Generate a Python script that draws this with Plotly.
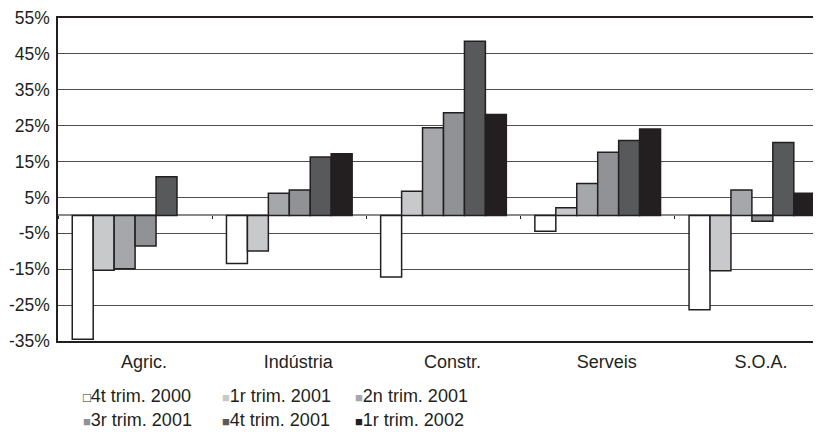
import plotly.graph_objects as go

# sectors and quarterly series (year-on-year change, %)
categories = ["Agric.", "Indústria", "Constr.", "Serveis", "S.O.A."]
series_names = ["4t trim. 2000", "1r trim. 2001", "2n trim. 2001",
                "3r trim. 2001", "4t trim. 2001", "1r trim. 2002"]
q4_2000 = [-34.5, -13.4, -17.2, -4.4, -26.3]
q1_2001 = [-15.3, -9.9, 6.7, 2.1, -15.4]
q2_2001 = [-14.9, 6.2, 24.4, 8.9, 7.1]
q3_2001 = [-8.5, 7.1, 28.6, 17.6, -1.6]
q4_2001 = [10.8, 16.3, 48.5, 20.9, 20.3]
q1_2002 = [None, 17.2, 28.1, 24.1, 6.2]
y_ticks = [-35, -25, -15, -5, 5, 15, 25, 35, 45, 55]

series_values = [q4_2000, q1_2001, q2_2001, q3_2001, q4_2001, q1_2002]
colors = ["#ffffff", "#c8c9cb", "#a6a7aa", "#919295", "#58595b", "#231f20"]
ink = "#231f20"
font = "Liberation Sans, Arial, sans-serif"

fig = go.Figure()
for name, vals, col in zip(series_names, series_values, colors):
    fig.add_trace(go.Bar(
        x=categories, y=vals, name=name,
        marker=dict(color=col, line=dict(color=ink, width=1.5)),
        showlegend=False,
    ))

# empty trace so the category axis crossing at 0 gets its tick marks
fig.add_trace(go.Scatter(x=categories, y=[None] * len(categories), xaxis="x2",
                         mode="lines", showlegend=False, hoverinfo="skip"))

# legend drawn as text rows (small squares like the original)
legend_x = [0.030, 0.210, 0.383]
legend_y = [-0.171, -0.245]
for i, (name, col) in enumerate(zip(series_names, colors)):
    sym = "□" if col == "#ffffff" else "■"
    sym_col = ink if col == "#ffffff" else col
    fig.add_annotation(
        xref="paper", yref="paper",
        x=legend_x[i % 3], y=legend_y[i // 3],
        xanchor="left", yanchor="middle", showarrow=False,
        text=f"<span style='color:{sym_col};font-size:13px'>{sym}</span>{name}",
        font=dict(family=font, size=18, color=ink),
    )

# page body adds an 8px offset, so margins are 8px smaller than the target
fig.update_layout(
    width=821, height=432,
    margin=dict(l=50, r=0, t=10, b=99),
    plot_bgcolor="white", paper_bgcolor="white",
    barmode="group", bargap=0.185, bargroupgap=0,
    font=dict(family=font, size=18, color=ink),
    xaxis=dict(
        type="category", range=[-0.5, 4.5], automargin=False,
        showline=True, linecolor=ink, linewidth=1.5, mirror=True,
        showgrid=False, ticks="", ticklabelstandoff=4, ticklabelshift=9,
    ),
    xaxis2=dict(
        type="category", overlaying="x", range=[-0.5, 4.5],
        categoryorder="array", categoryarray=categories,
        anchor="free", position=35 / 90, showline=False,
        tickson="boundaries", ticks="outside", ticklen=3, tickcolor=ink,
        showticklabels=False, showgrid=False,
    ),
    yaxis=dict(
        range=[-35, 55], tickvals=y_ticks, automargin=False,
        ticktext=[f"{v}%" for v in y_ticks], ticklabeloverflow="allow",
        tickfont=dict(size=17.5),
        showline=True, linecolor=ink, linewidth=1.5,
        showgrid=True, gridcolor="#4d4d4d", gridwidth=1,
        zeroline=True, zerolinecolor="#8a8a8a", zerolinewidth=1.5,
        ticks="", ticklabelstandoff=3,
    ),
)

fig.write_html("out.html")
